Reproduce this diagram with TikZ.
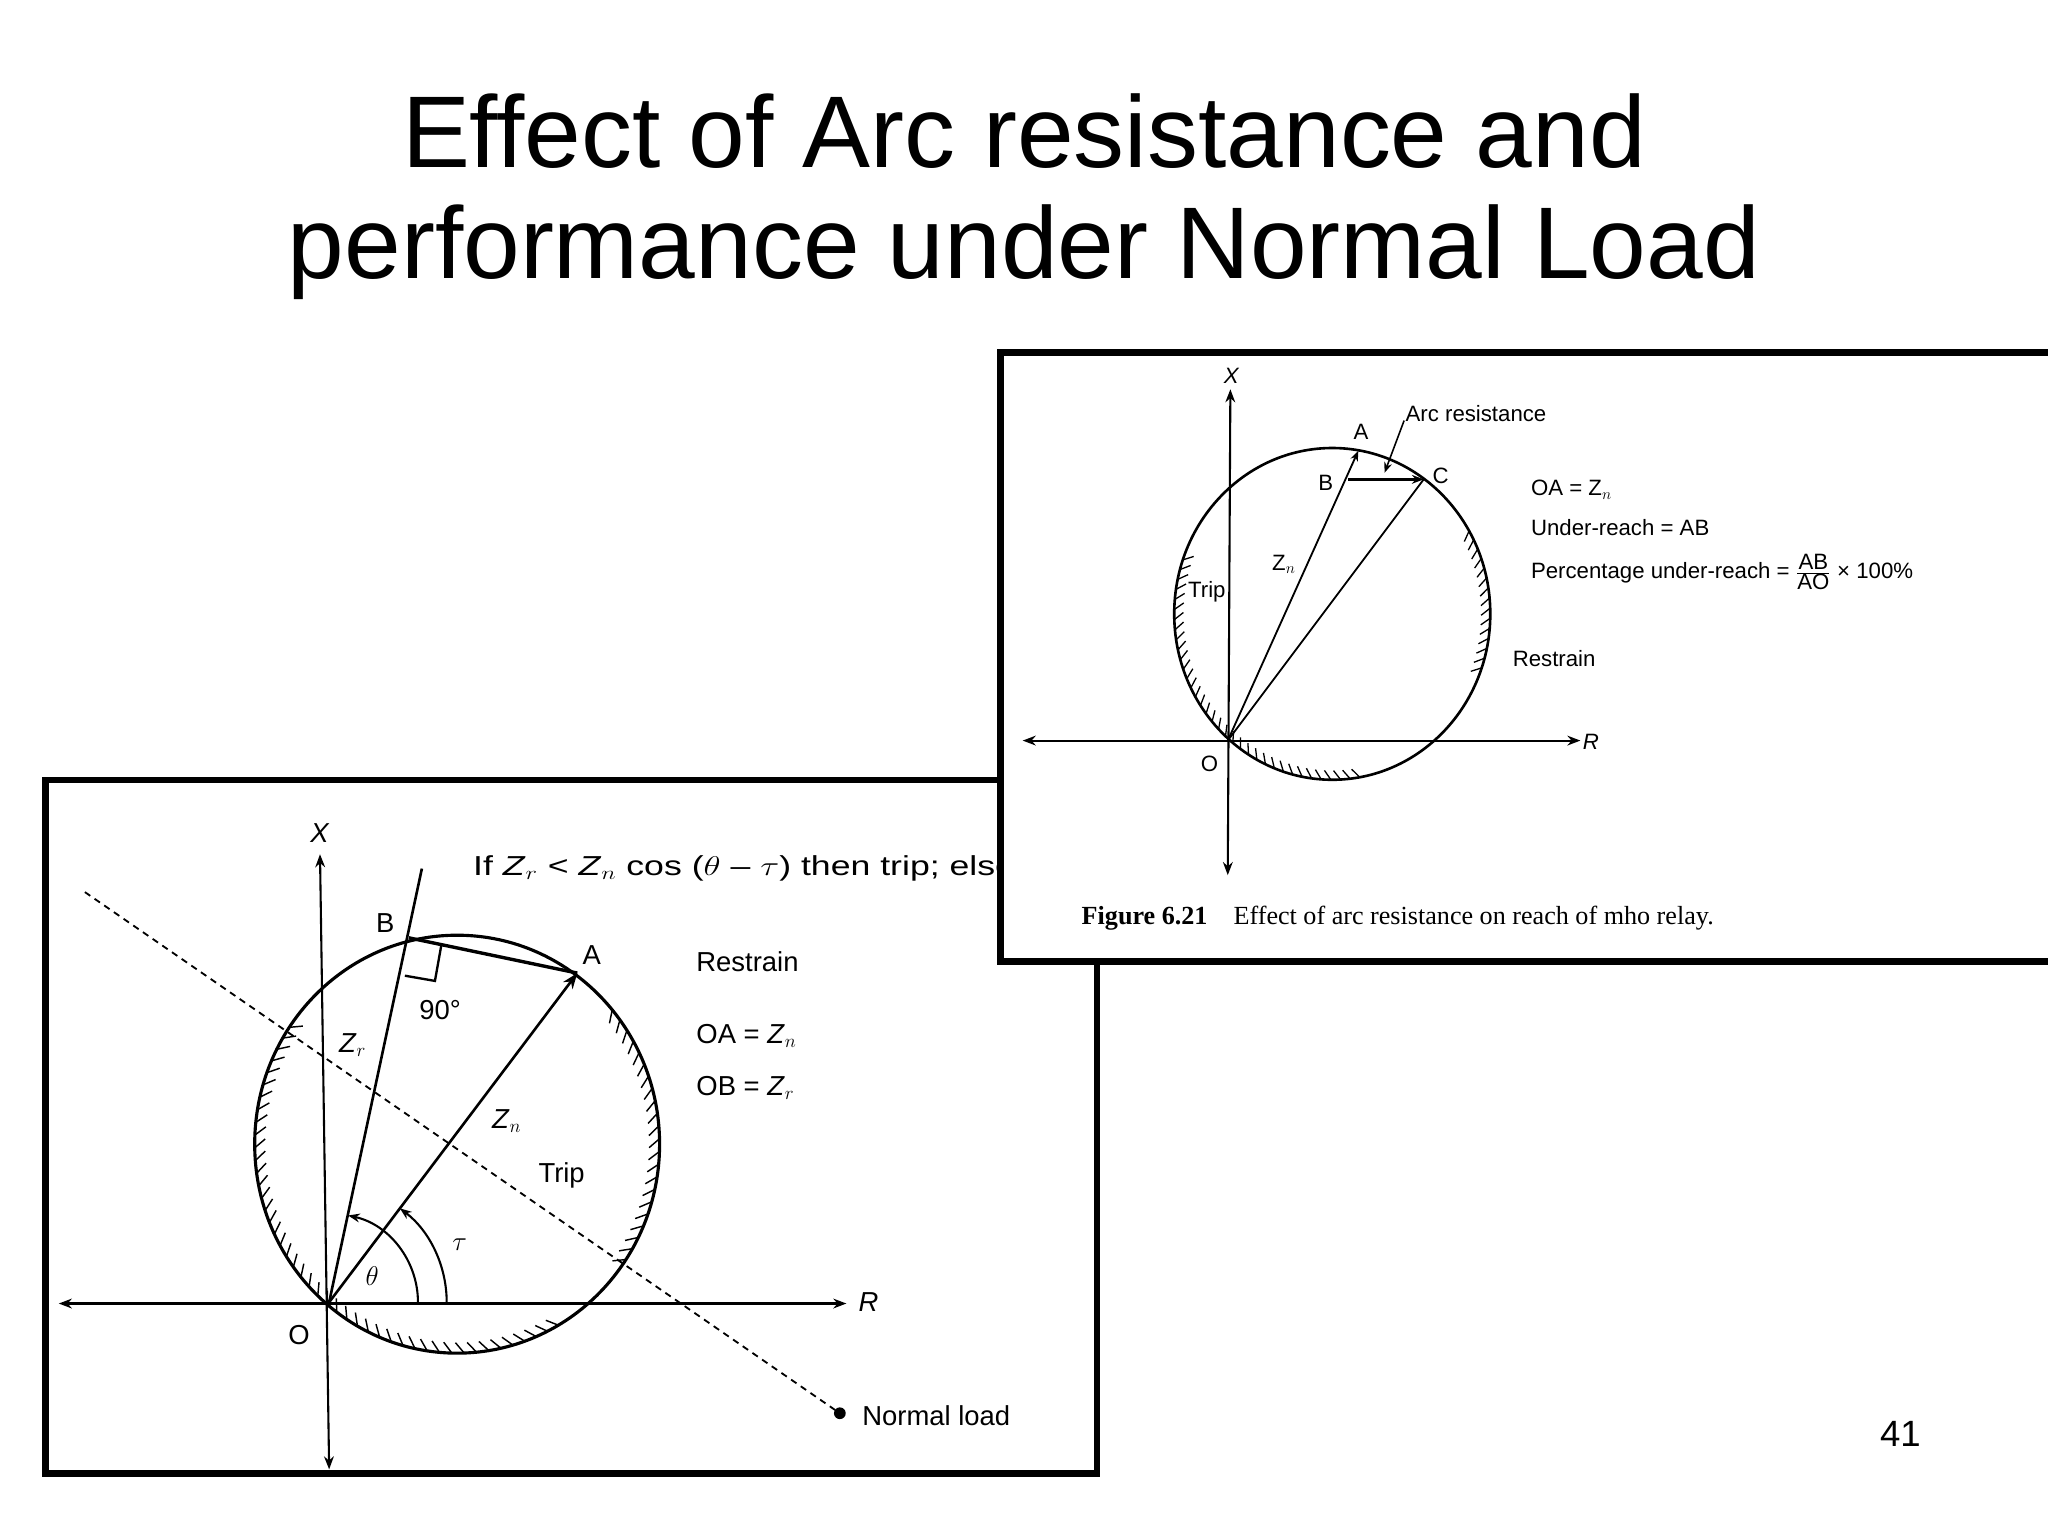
\documentclass[tikz,border=0pt]{standalone}
\usepackage{fontspec}
\setmainfont{Liberation Sans}
\newfontfamily\serifc{Liberation Serif}
\usetikzlibrary{arrows.meta,calc}
\begin{document}
\begin{tikzpicture}[x=1pt,y=-1pt,
  lbl/.style={font=\fontsize{21}{24}\selectfont, inner sep=0pt},
  slbl/.style={font=\fontsize{17}{20}\selectfont, inner sep=0pt},
  ax/.style={line width=1.6pt,{Stealth[length=10pt]}-{Stealth[length=10pt]}},
  ln/.style={line width=2pt},
  frame/.style={line width=5pt, fill=white}]
\useasboundingbox (0,0) rectangle (1568,1176);
\fill[white] (0,0) rectangle (1568,1176);
% title
\node (t1) at (784,100) {\fontsize{78}{90}\selectfont Effect of Arc resistance and};
\node (t2) at (784,193) {\fontsize{78}{90}\selectfont performance under Normal Load};
\node (pg) at (1455,1098) {\fontsize{28}{32}\selectfont 41};
% ---------- left panel
\draw[frame] (35,597) rectangle (840,1128);
\coordinate (O) at (252,997);
\coordinate (B) at (313,718);
\coordinate (A) at (442,745);
\coordinate (c1) at (350,876);
\draw[line width=2.4pt] (c1) ellipse (155 and 160);
\foreach \a in {60,63.5,...,215,320,323.5,...,395}
  \draw[line width=1.1pt] ($(c1)+({155*cos(\a)},{160*sin(\a)})$) -- ($(c1)+({147*cos(\a+2.5)},{152*sin(\a+2.5)})$);
\coordinate (Lx) at (45,998); \coordinate (Rx) at (648,998);
\draw[ax] (Lx) -- (Rx);
\coordinate (Xt) at (245,654); \coordinate (Xb) at (252,1125);
\draw[ax] (Xt) -- (Xb);
\coordinate (Bt) at (323,665);
\draw[ln] (O) -- (Bt);
\draw[ln,-{Stealth[length=12pt]}] (O) -- (A);
\draw[line width=2.6pt] (B) -- (A);
\draw[line width=1.8pt] (310,747) -- (333,751) -- (338,723);
\coordinate (Nl) at (643,1082);
\draw[line width=1.4pt, dash pattern=on 5pt off 4pt] (65,683) -- (Nl);
\fill (Nl) circle (4.5pt);
\draw[line width=1.6pt,-{Stealth[length=9pt]}] (320,997) arc (0:-77.7:68);
\draw[line width=1.6pt,-{Stealth[length=9pt]}] (342,997) arc (0:-53:90);
\node[lbl] (lX) at (245,638) {\textit{X}};
\node[lbl] (lR) at (665,997) {\textit{R}};
\node[lbl] (lO) at (229,1022) {O};
\node[lbl] (lB) at (295,707) {B};
\node[lbl] (lA) at (453,731) {A};
\node[lbl] (l90) at (337,773) {90°};
\node[lbl] (lZr) at (270,800) {\textit{Z}$_r$};
\node[lbl] (lZn) at (388,858) {\textit{Z}$_n$};
\node[lbl] (lTrip) at (430,900) {Trip};
\node[lbl] (lth) at (285,977) {$\theta$};
\node[lbl] (lta) at (352,953) {$\tau$};
\node[lbl,anchor=west] (lRes) at (533,736) {Restrain};
\node[lbl,anchor=west] (lOA) at (533,793) {OA = \textit{Z}$_n$};
\node[lbl,anchor=west] (lOB) at (533,833) {OB = \textit{Z}$_r$};
\node[lbl,anchor=west] (lNL) at (660,1084) {Normal load};
\node[lbl,anchor=west,xscale=1.3] (lIf) at (362,665) {If \textit{Z}$_r$ < \textit{Z}$_n$ cos ($\theta$ -- $\tau$) then trip; else};
% ---------- right panel
\draw[frame] (766,270) rectangle (1580,736);
\coordinate (O2) at (940,567);
\coordinate (c2) at (1020,470);
\draw[line width=2pt] (c2) ellipse (121 and 127);
\foreach \a in {80,83.5,...,200,330,333.5,...,380}
  \draw[line width=1pt] ($(c2)+({121*cos(\a)},{127*sin(\a)})$) -- ($(c2)+({114*cos(\a+2.5)},{120*sin(\a+2.5)})$);
\coordinate (L2) at (783,567); \coordinate (R2) at (1210,567);
\draw[ax] (L2) -- (R2);
\coordinate (T2) at (942,298); \coordinate (D2) at (940,670);
\draw[ax] (T2) -- (D2);
\coordinate (A2) at (1040,345);
\coordinate (B2) at (1032,367);
\coordinate (C2) at (1090,367);
\draw[line width=1.4pt,-{Stealth[length=8pt]}] (O2) -- (A2);
\draw[line width=1.4pt] (O2) -- (C2);
\draw[line width=2.4pt,-{Stealth[length=9pt]}] (B2) -- (C2);
\coordinate (AR) at (1075,322);
\draw[line width=1.2pt,-{Stealth[length=8pt]}] (AR) -- (1060,362);
\node[slbl] (rX) at (943,288) {\textit{X}};
\node[slbl] (rR) at (1218,568) {\textit{R}};
\node[slbl] (rO) at (926,585) {O};
\node[slbl] (rA) at (1042,331) {A};
\node[slbl] (rB) at (1015,370) {B};
\node[slbl] (rC) at (1103,364) {C};
\node[slbl] (rZn) at (983,432) {Z$_n$};
\node[slbl] (rTrip) at (924,453) {Trip};
\node[slbl,anchor=west] (rArc) at (1076,317) {Arc resistance};
\node[slbl,anchor=west] (rRes) at (1158,504) {Restrain};
\node[slbl,anchor=west] (rOA) at (1172,375) {OA = Z$_n$};
\node[slbl,anchor=west] (rUR) at (1172,404) {Under-reach = AB};
\node[slbl,anchor=west] (rPU) at (1172,438) {Percentage under-reach = $\frac{\mbox{AB}}{\mbox{AO}}$ × 100\%};
\node[anchor=west,inner sep=0pt] (cap) at (828,703) {\serifc\fontsize{20}{24}\selectfont\textbf{Figure 6.21}\quad Effect of arc resistance on reach of mho relay.};
\end{tikzpicture}
\end{document}
